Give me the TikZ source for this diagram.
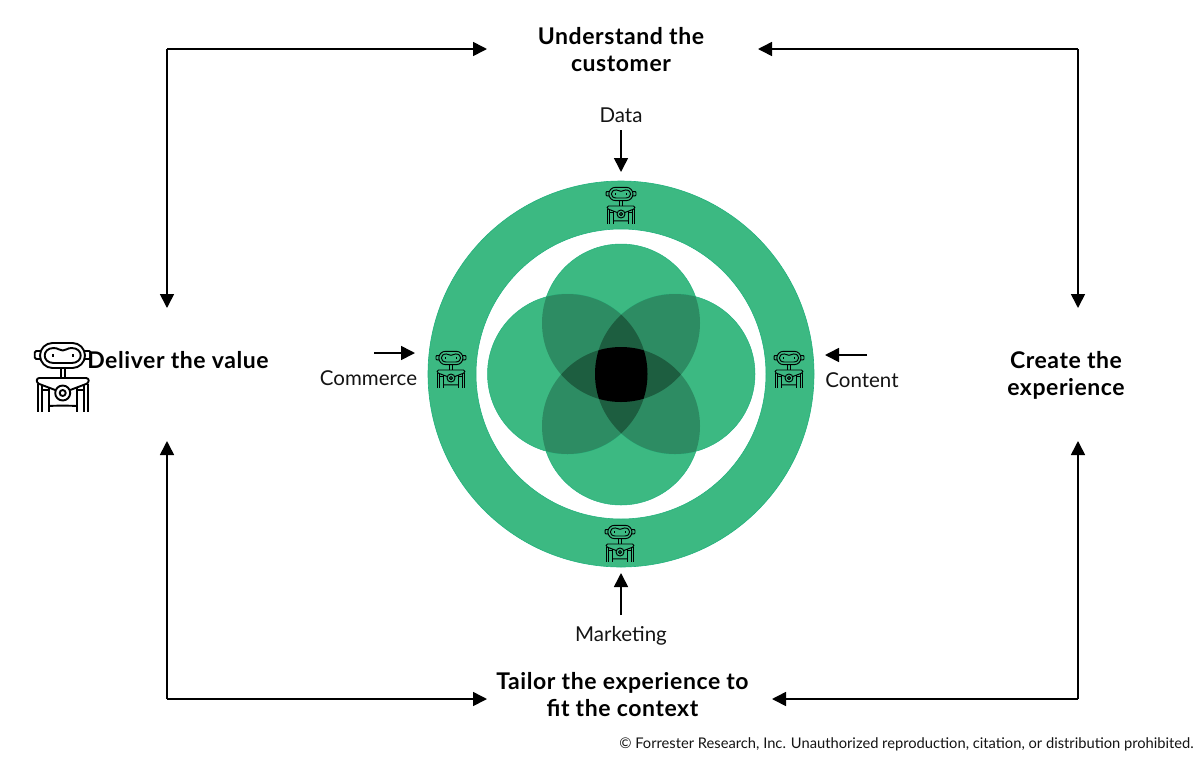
\documentclass[tikz,border=0pt]{standalone}
\usepackage{fontspec}
\setmainfont{Lato}
\newfontfamily\spaced[LetterSpace=2.5]{Lato}
\usetikzlibrary{arrows.meta}
\definecolor{ringg}{HTML}{3CB982}
\definecolor{edgeg}{HTML}{22B27D}
\definecolor{twog}{HTML}{2D8C63}
\definecolor{threeg}{HTML}{1D5E40}
\tikzset{
  heading/.style={font=\fontsize{23}{27}\selectfont\spaced\bfseries,align=center,text=black,inner sep=0pt},
  source/.style={font=\fontsize{20.5}{22}\selectfont,text=black!92,inner sep=0pt},
  link/.style={line width=1.6pt,-{Triangle[length=14pt,width=14pt]}},
  robot/.pic={
    \pgfmathsetmacro{\rbk}{#1}
    \pgfmathsetmacro{\rbw}{\rbk>0.8 ? 1.9 : 0.95}
    \begin{scope}[scale=\rbk,line width=\rbw pt,line join=round]
      \draw[rounded corners=\rbk*12.5pt] (-22.7,-35) rectangle (22.3,-10);
      \draw (-9,-30) .. controls (-4,-30) and (-4,-27.5) .. (0,-27.5) .. controls (4,-27.5) and (4,-30) .. (9,-30)
        .. controls (21,-30) and (21,-15) .. (9,-15) -- (-9,-15) .. controls (-21,-15) and (-21,-30) .. (-9,-30) -- cycle;
      \draw (-10,-24) -- (-10,-21) (10,-24) -- (10,-21);
      \draw[rounded corners=\rbk*1.5pt] (-22.7,-27) -- (-28,-27) -- (-28,-19) -- (-22.7,-19);
      \draw[rounded corners=\rbk*1.5pt] (22.3,-27) -- (28,-27) -- (28,-19) -- (22.3,-19);
      \draw (-2,-10) -- (-2,0) (2,-10) -- (2,0);
      \draw[rounded corners=\rbk*2.5pt] (-7.5,12) -- (-26,5) -- (-26,0) -- (26,0) -- (26,5) -- (7.5,12);
      \draw (0,15) circle[radius=7.5];
      \draw (0,15) circle[radius=3];
      \draw (-25,6) -- (-25,34) (-21,7) -- (-21,34) (25,6) -- (25,34) (21,7) -- (21,34);
      \draw (-14,9.5) -- (-14,34) (14,9.5) -- (14,34);
      \draw (-21,12) -- (-14,12) (21,12) -- (14,12);
      \draw (-14,28) .. controls (-6,27.5) and (6,27.5) .. (14,28);
    \end{scope}
  }
}
\newcommand{\circT}{(621,323) circle[radius=79]}
\newcommand{\circB}{(621,426) circle[radius=79]}
\newcommand{\circL}{(567.5,374) circle[radius=80]}
\newcommand{\circR}{(675,374) circle[radius=80]}
\newcommand{\lensfill}[3]{\begin{scope}\clip #1;\clip #2;\fill[#3] (470,230) rectangle (770,520);\end{scope}}
\begin{document}
\begin{tikzpicture}[x=1pt,y=-1pt]
\useasboundingbox (0,0) rectangle (1200,756);
\fill[white] (0,0) rectangle (1200,756);

% ring
\fill[ringg,draw=edgeg,line width=.6pt,even odd rule] (621,374) circle[radius=193] (621,374) circle[radius=145];

% petals
\foreach \c in {\circT,\circB,\circL,\circR}{\fill[ringg,draw=edgeg,line width=.5pt] \c;}
\lensfill{\circT}{\circL}{twog}
\lensfill{\circT}{\circR}{twog}
\lensfill{\circB}{\circL}{twog}
\lensfill{\circB}{\circR}{twog}
\lensfill{\circT}{\circB}{threeg}
\lensfill{\circL}{\circR}{threeg}
\begin{scope}\clip \circT;\clip \circB;\clip \circL;\clip \circR;\fill[black] (470,230) rectangle (770,520);\end{scope}

% robots
\path (62.7,378) pic{robot=1};
\path (621,206) pic{robot=.535};
\path (620,544) pic{robot=.535};
\path (451,370) pic{robot=.535};
\path (789,370) pic{robot=.535};

% labels
\node[heading] (understand) at (621,50) {Understand the\\customer};
\node[heading] (create) at (1066,375.5) {Create the\\experience};
\node[heading] (tailor) at (622.5,695) {Tailor the experience to\\fit the context};
\node[heading] (deliver) at (178,360) {Deliver the value};
\node[source] (data) at (621,115) {Data};
\node[source] (commerce) at (368.5,378) {Commerce};
\node[source] (content) at (862,380) {Content};
\node[source] (marketing) at (621,635.5) {Marketing};
\node[anchor=east,inner sep=0pt,font=\fontsize{14.7}{16}\selectfont,text=black!92] (rights) at (1194,744) {© Forrester Research, Inc. Unauthorized reproduction, citation, or distribution prohibited.};

% connector ends
\coordinate (ctl) at (167,49);
\coordinate (ctr) at (1078,49);
\coordinate (cbl) at (167,699);
\coordinate (cbr) at (1078,699);
\coordinate (toptoL) at (487,49);
\coordinate (toptoR) at (758,49);
\coordinate (bottoL) at (487,699);
\coordinate (bottoR) at (772,699);
\coordinate (delU) at (167,308);
\coordinate (delD) at (167,441);
\coordinate (creU) at (1078,308);
\coordinate (creD) at (1078,441);
\coordinate (dataS) at (621,130);
\coordinate (dataE) at (621,172);
\coordinate (markS) at (621,615);
\coordinate (markE) at (621,573);
\coordinate (commS) at (374,353);
\coordinate (commE) at (415,353);
\coordinate (contS) at (867,355);
\coordinate (contE) at (825,355);

\draw[link] (ctl) -- (toptoL);
\draw[link] (ctl) -- (delU);
\draw[link] (ctr) -- (toptoR);
\draw[link] (ctr) -- (creU);
\draw[link] (cbl) -- (bottoL);
\draw[link] (cbl) -- (delD);
\draw[link] (cbr) -- (bottoR);
\draw[link] (cbr) -- (creD);
\draw[link] (dataS) -- (dataE);
\draw[link] (markS) -- (markE);
\draw[link] (commS) -- (commE);
\draw[link] (contS) -- (contE);
\end{tikzpicture}
\end{document}
